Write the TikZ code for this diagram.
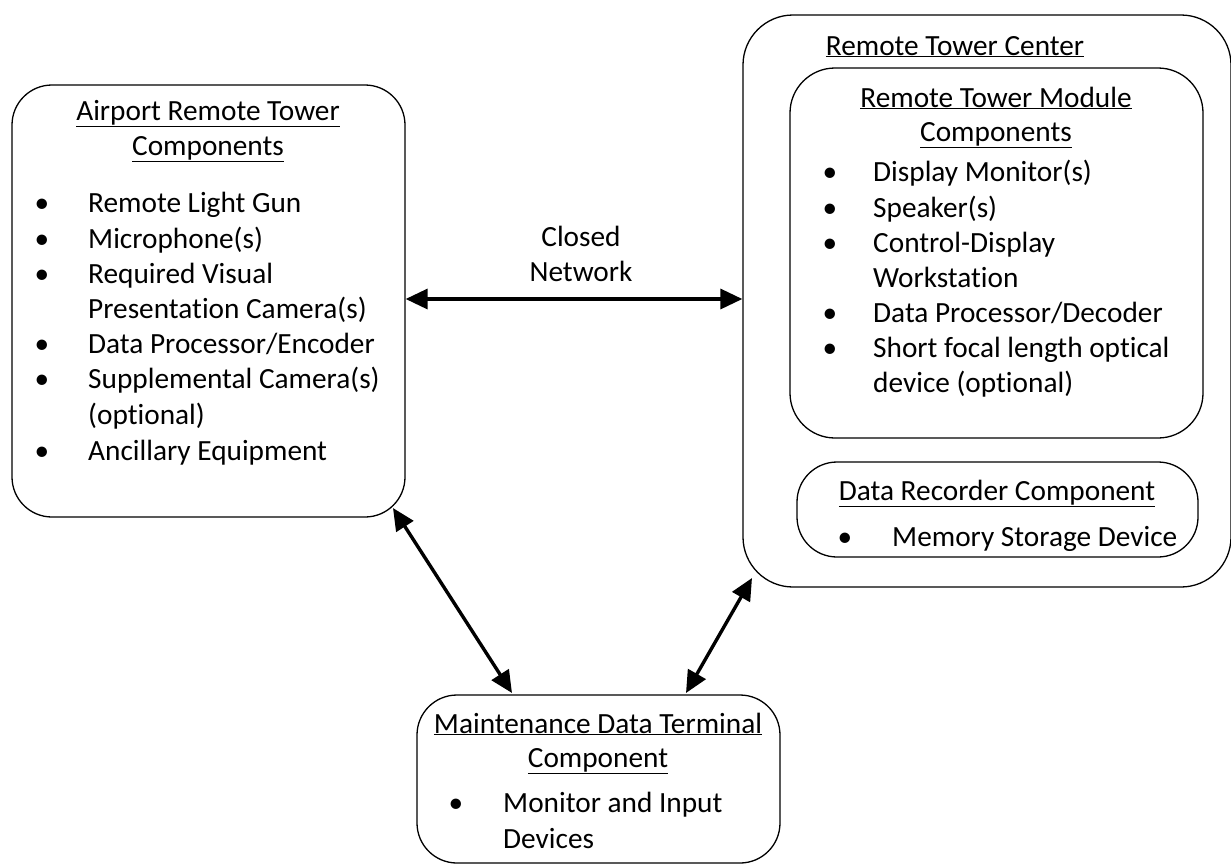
\documentclass[tikz,border=0pt]{standalone}
\usepackage{fontspec}
\setmainfont{Carlito}[Ligatures=NoCommon]
\usetikzlibrary{arrows.meta}

\tikzset{
  box/.style={draw, line width=1.3pt, inner sep=0pt, rounded corners=#1},
  box/.default=40pt,
  head/.style={anchor=base, inner sep=0pt},
  item/.style={anchor=base west, inner sep=0pt},
  dot/.style={anchor=base, inner sep=0pt},
  link/.style={line width=3.4pt, {Triangle[length=22pt,width=20pt]}-{Triangle[length=22pt,width=20pt]}}
}
\newcommand{\ul}[1]{\underline{#1}}

\begin{document}
\begin{tikzpicture}[x=1pt,y=-1pt,font=\fontsize{29.3}{35}\selectfont]
  \useasboundingbox (0,0) rectangle (1231,863);

  % airport side
  \node[box, minimum width=393pt, minimum height=432pt] (airport) at (208.5,301) {};
  \node[head] (airportA) at (208,120) {\ul{Airport Remote Tower}};
  \node[head] (airportB) at (208,155) {\ul{Components}};
  \node[dot] (a1) at (42,212) {•};
  \node[item] (t1) at (88,212) {Remote Light Gun};
  \node[dot] (a2) at (42,248) {•};
  \node[item] (t2) at (88,248) {Microphone(s)};
  \node[dot] (a3) at (42,283) {•};
  \node[item] (t3) at (88,283) {Required Visual};
  \node[item] (t3b) at (88,318) {Presentation Camera(s)};
  \node[dot] (a4) at (42,353) {•};
  \node[item] (t4) at (88,353) {Data Processor/Encoder};
  \node[dot] (a5) at (42,388) {•};
  \node[item] (t5) at (88,388) {Supplemental Camera(s)};
  \node[item] (t5b) at (88,424) {(optional)};
  \node[dot] (a6) at (42,460) {•};
  \node[item] (t6) at (88,460) {Ancillary Equipment};

  % remote tower center
  \node[box=50pt, minimum width=488pt, minimum height=572pt] (center) at (987,301) {};
  \node[head] (centerA) at (955,55) {\ul{Remote Tower Center}};

  \node[box=45pt, minimum width=413pt, minimum height=370pt] (module) at (996.5,253) {};
  \node[head] (moduleA) at (996,107) {\ul{Remote Tower Module}};
  \node[head] (moduleB) at (996,141) {\ul{Components}};
  \node[dot] (m1) at (830,181) {•};
  \node[item] (s1) at (873,181) {Display Monitor(s)};
  \node[dot] (m2) at (830,217) {•};
  \node[item] (s2) at (873,217) {Speaker(s)};
  \node[dot] (m3) at (830,252) {•};
  \node[item] (s3) at (873,252) {Control-Display};
  \node[item] (s3b) at (873,287) {Workstation};
  \node[dot] (m4) at (830,322) {•};
  \node[item] (s4) at (873,322) {Data Processor/Decoder};
  \node[dot] (m5) at (830,357) {•};
  \node[item] (s5) at (873,357) {Short focal length optical};
  \node[item] (s5b) at (873,392) {device (optional)};

  \node[box=40pt, minimum width=401pt, minimum height=95pt] (recorder) at (997.5,509.5) {};
  \node[head] (recorderA) at (997,500) {\ul{Data Recorder Component}};
  \node[dot] (r1) at (845,546) {•};
  \node[item] (u1) at (892,546) {Memory Storage Device};

  % maintenance terminal
  \node[box, minimum width=363pt, minimum height=168pt] (terminal) at (598.5,779) {};
  \node[head] (terminalA) at (598,733) {\ul{Maintenance Data Terminal}};
  \node[head] (terminalB) at (598,767) {\ul{Component}};
  \node[dot] (d1) at (456,812) {•};
  \node[item] (v1) at (503,812) {Monitor and Input};
  \node[item] (v1b) at (503,848) {Devices};

  % network label
  \node[head] (netA) at (581,246) {Closed};
  \node[head] (netB) at (581,281) {Network};

  \coordinate (p1) at (393,508);
  \coordinate (p2) at (512,693);
  \coordinate (p3) at (686,693);
  \coordinate (p4) at (752,578);
  \draw[link] (airport.east |- 0,299) -- (center.west |- 0,299);
  \draw[link] (p1) -- (p2);
  \draw[link] (p3) -- (p4);
\end{tikzpicture}
\end{document}
